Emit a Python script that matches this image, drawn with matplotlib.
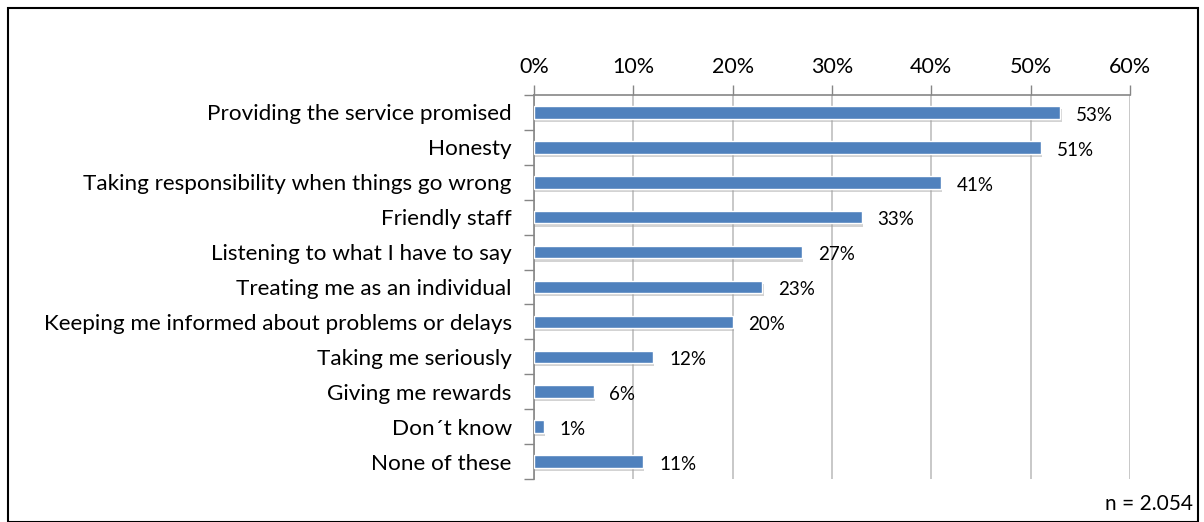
import matplotlib.pyplot as plt
from matplotlib.patches import Rectangle
from matplotlib.ticker import PercentFormatter

plt.rcParams['font.family'] = ['Lato', 'DejaVu Sans']

# Data
categories = [
    "Providing the service promised",
    "Honesty",
    "Taking responsibility when things go wrong",
    "Friendly staff",
    "Listening to what I have to say",
    "Treating me as an individual",
    "Keeping me informed about problems or delays",
    "Taking me seriously",
    "Giving me rewards",
    "Don\u00b4t know",
    "None of these",
]
values = [53, 51, 41, 33, 27, 23, 20, 12, 6, 1, 11]
xticks = [0, 10, 20, 30, 40, 50, 60]

bar_color = '#4F81BD'
grid_color = '#BFBFBF'
axis_color = '#868686'

fig = plt.figure(figsize=(12.04, 5.22), dpi=100)
fig.patches.append(Rectangle((0.007, 0.0), 0.988, 0.985, transform=fig.transFigure,
                             fill=False, edgecolor='black', linewidth=1.5))

ax = fig.add_axes([534 / 1204, 1 - 479 / 522, 596 / 1204, 384 / 522])

pos = list(range(len(categories)))
# soft shadow under the bars
ax.barh([p + 0.09 for p in pos], values, height=0.36,
        left=0.12, color='#9F9F9F', alpha=0.45, zorder=2)
ax.barh(pos, values, height=0.36, color=bar_color, edgecolor='white',
        linewidth=1.0, zorder=3)

for p, v in zip(pos, values):
    ax.text(v + 1.6, p + 0.08, f"{v}%", va='center', ha='left', fontsize=13.5,
            color='black')

ax.set_xlim(0, 60)
ax.set_ylim(len(categories) - 0.5, -0.5)
ax.xaxis.tick_top()
ax.set_xticks(xticks)
ax.xaxis.set_major_formatter(PercentFormatter(decimals=0))
ax.tick_params(axis='x', length=7, width=1, color=axis_color, pad=6,
               labelsize=15.5)

ax.set_yticks(pos)
ax.set_yticklabels(categories, fontsize=16.2)
ax.set_yticks([p + 0.5 for p in [-1] + pos], minor=True)
ax.tick_params(axis='y', which='major', length=0, pad=16)
ax.tick_params(axis='y', which='minor', length=7, width=1, color=axis_color)

ax.grid(axis='x', color=grid_color, linewidth=1.2, zorder=0)
ax.set_axisbelow(True)
for side in ['right', 'bottom']:
    ax.spines[side].set_visible(False)
for side in ['left', 'top']:
    ax.spines[side].set_color(axis_color)
    ax.spines[side].set_linewidth(1.2)

fig.text(1193 / 1204, 1 - 504 / 522, "n = 2.054", ha='right', va='center',
         fontsize=15)

fig.savefig('out.png', dpi=100)
